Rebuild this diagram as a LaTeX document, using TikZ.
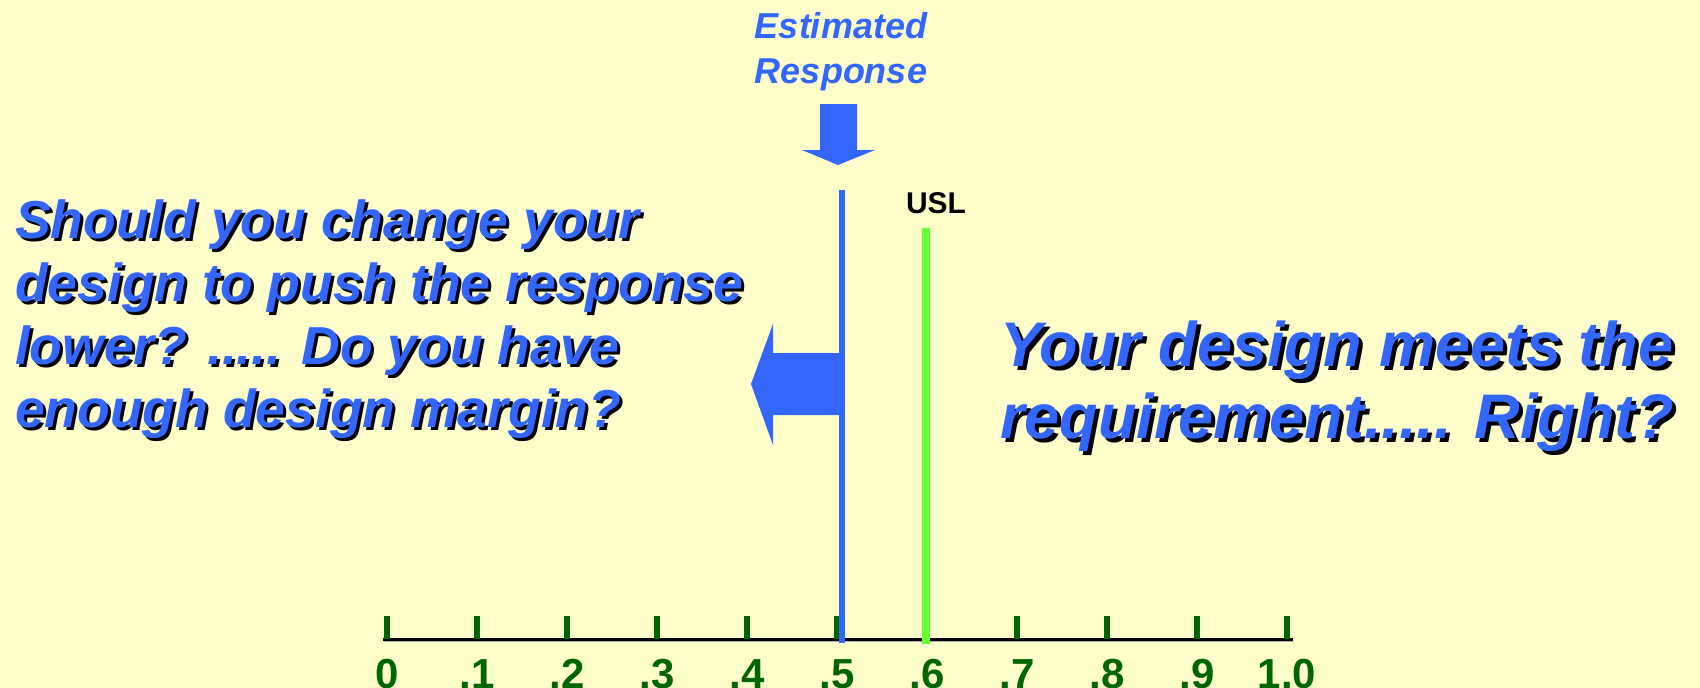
\documentclass[tikz,border=0pt]{standalone}
\usepackage{fontspec}
\setmainfont{Liberation Sans}
\definecolor{bg}{HTML}{FFFFCC}
\definecolor{myblue}{HTML}{3366FF}
\definecolor{mygreen}{HTML}{66FF33}
\definecolor{dkgreen}{HTML}{006600}
\tikzset{
  txt/.style={inner sep=0pt, outer sep=0pt},
  ticklab/.style={inner sep=0pt, anchor=base, text=dkgreen, font=\fontsize{42}{42}\selectfont\bfseries},
  tickmark/.style={draw=dkgreen, line width=6pt},
}
\newcommand\ShLine[7]{% name, x, y, shadow offset, size, anchor, text
  \node[txt, anchor=#6, text=black, font=\fontsize{#5}{#5}\selectfont\bfseries\itshape] (#1s) at (#2+#4,#3+#4) {#7};
  \node[txt, anchor=#6, text=myblue, font=\fontsize{#5}{#5}\selectfont\bfseries\itshape] (#1) at (#2,#3) {#7};
}
\begin{document}
\begin{tikzpicture}[x=1pt,y=-1pt]
\useasboundingbox (0,0) rectangle (1700,688);
\fill[bg] (0,0) rectangle (1700,688);

% Estimated Response
\node[txt, anchor=base, text=myblue, font=\fontsize{36}{36}\selectfont\bfseries\itshape] (est1) at (841,38) {Estimated};
\node[txt, anchor=base, text=myblue, font=\fontsize{36}{36}\selectfont\bfseries\itshape] (est2) at (841,83) {Response};

% down block arrow
\fill[myblue] (820,104) -- (857,104) -- (857,150) -- (875,150) -- (838,165) -- (802,150) -- (820,150) -- cycle;

% USL label
\node[txt, anchor=base, text=black, font=\fontsize{30}{30}\selectfont\bfseries] (usl) at (936,213) {USL};

% axis
\draw[black!30, line width=1.2pt] (384,641.8) -- (1294,641.8);
\draw[black, line width=3pt] (383,639.5) -- (1293,639.5);
\foreach \i/\lab in {0/0,1/.1,2/.2,3/.3,4/.4,5/.5,6/.6,7/.7,8/.8,9/.9,10/1.0}{
  \draw[tickmark] (387+90*\i,616) -- (387+90*\i,639);
  \node[ticklab] (lab\i) at (387+90*\i,688) {\lab};
}

% estimated response line and USL line
\draw[myblue, line width=6pt] (842,190) -- (842,643);
\draw[mygreen, line width=8pt] (926,228) -- (926,644);

% left block arrow
\fill[myblue] (842,353) -- (773,353) -- (773,324) -- (751,384) -- (773,445) -- (773,415) -- (842,415) -- cycle;

% left text
\ShLine{l1}{15}{238}{3}{53.5}{base west}{Should you change your}
\ShLine{l2}{15}{301}{3}{53.5}{base west}{design to push the response}
\ShLine{l3}{15}{364}{3}{53.5}{base west}{lower? ..... Do you have}
\ShLine{l4}{15}{427}{3}{53.5}{base west}{enough design margin?}

% right text
\ShLine{r1}{1000}{366}{4}{63}{base west}{Your design meets the}
\ShLine{r2}{1000}{438}{4}{63}{base west}{requirement..... Right?}
\end{tikzpicture}
\end{document}
